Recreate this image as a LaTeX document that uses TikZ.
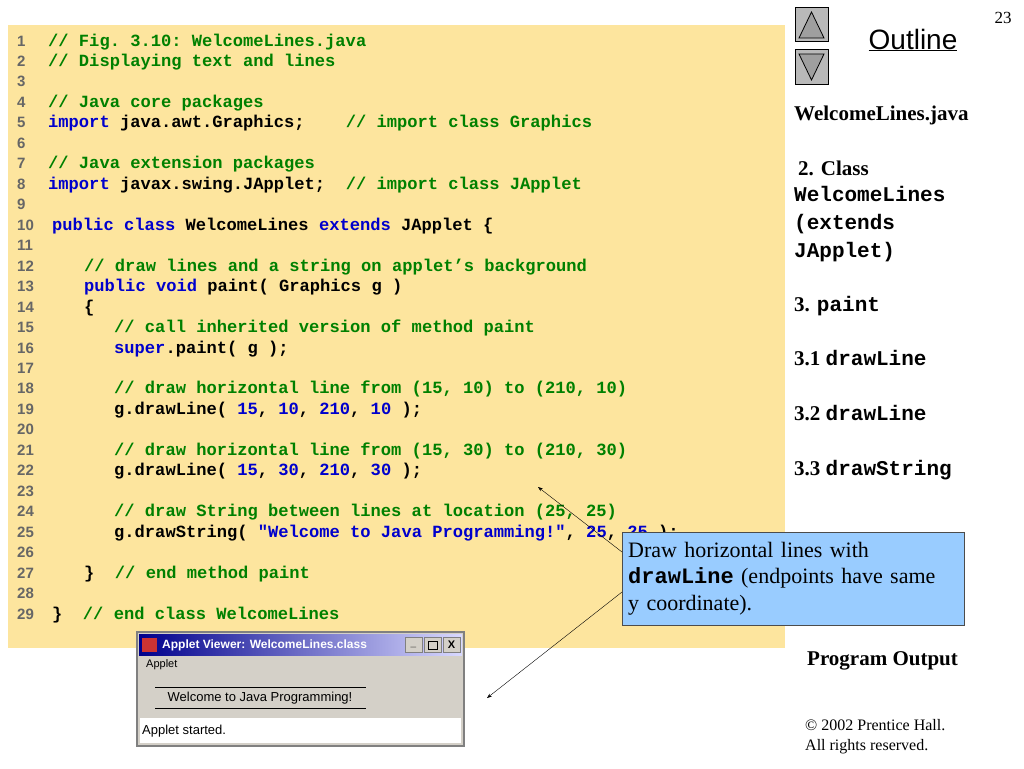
\documentclass[tikz,border=0pt]{standalone}
\usepackage{fontspec}
\setmainfont{Liberation Serif}
\setsansfont{Liberation Sans}
\setmonofont{Liberation Mono}
\usetikzlibrary{arrows.meta}
\definecolor{codebg}{RGB}{253,229,158}
\definecolor{cmgreen}{RGB}{0,128,0}
\definecolor{kwblue}{RGB}{0,0,204}
\definecolor{notebg}{RGB}{153,204,255}
\definecolor{wingray}{RGB}{212,208,200}
\newcommand{\cm}[1]{\textcolor{cmgreen}{#1}}
\newcommand{\kw}[1]{\textcolor{kwblue}{#1}}
\newcommand{\codesz}{\fontsize{17.1}{18}\selectfont\ttfamily\bfseries}
\newcommand{\lblsz}{\fontsize{21}{22}\selectfont\bfseries}
\newcommand{\lbltt}{\fontsize{21}{22}\selectfont\ttfamily}
\tikzset{
  codeline/.style={anchor=base west,inner sep=0pt,font=\codesz},
  lineno/.style={anchor=base west,inner sep=0pt,text=gray!80!black,font=\fontsize{15}{16}\selectfont\sffamily\bfseries},
  outlbl/.style={anchor=base west,inner sep=0pt,font=\lblsz},
  navbtn/.style={draw=black,fill=gray!55,line width=1pt},
  navtri/.style={fill=gray!75,draw=black,line width=0.8pt},
}
\begin{document}
\begin{tikzpicture}[x=1pt,y=-1pt,>=Stealth]
  \useasboundingbox (0,0) rectangle (1024,768);
  \fill[white] (0,0) rectangle (1024,768);

  % code panel
  \fill[codebg] (8,25) rectangle (785,648);
  \foreach \n in {1,...,29}
    \node[lineno] (no\n) at (17,{41+20.47*(\n-1)+5}) {\n};

  \foreach \n/\x/\txt in {
      1/48/{\cm{// Fig. 3.10: WelcomeLines.java}},
      2/48/{\cm{// Displaying text and lines}},
      4/48/{\cm{// Java core packages}},
      5/48/{\kw{import} java.awt.Graphics;~~~~\cm{// import class Graphics}},
      7/48/{\cm{// Java extension packages}},
      8/48/{\kw{import} javax.swing.JApplet;~~\cm{// import class JApplet}},
      10/52/{\kw{public class} WelcomeLines \kw{extends} JApplet \{},
      12/84/{\cm{// draw lines and a string on applet’s background}},
      13/84/{\kw{public void} paint( Graphics g )},
      14/84/{\{},
      15/114/{\cm{// call inherited version of method paint}},
      16/114/{\kw{super}.paint( g );},
      18/114/{\cm{// draw horizontal line from (15, 10) to (210, 10)}},
      19/114/{g.drawLine( \kw{15}, \kw{10}, \kw{210}, \kw{10} );},
      21/114/{\cm{// draw horizontal line from (15, 30) to (210, 30)}},
      22/114/{g.drawLine( \kw{15}, \kw{30}, \kw{210}, \kw{30} );},
      24/114/{\cm{// draw String between lines at location (25, 25)}},
      25/114/{g.drawString( \kw{"Welcome to Java Programming!"}, \kw{25}, \kw{25} );},
      27/84/{\}~~\cm{// end method paint}},
      29/52/{\}~~\cm{// end class WelcomeLines}}}
    \node[codeline] (code\n) at (\x,{41+20.47*(\n-1)+5}) {\txt};

  % applet viewer window
  \draw[gray,line width=1.5pt,fill=wingray] (137,632) rectangle (464,746);
  \shade[left color=blue!55!black,right color=blue!15!white] (139,634) rectangle (462,655);
  \node[anchor=west,inner sep=0pt,text=white,font=\fontsize{12}{13}\selectfont\sffamily\bfseries] (wintitle) at (162,645) {Applet Viewer: WelcomeLines.class};
  \fill[red!60!gray] (142,638) rectangle (157,652);
  \foreach \i/\x in {0/405,1/424,2/443}
    \draw[fill=wingray,draw=gray] (\x,637) rectangle ++(17,15);
  \node[font=\fontsize{10}{10}\selectfont\sffamily\bfseries,inner sep=0pt] (minbtn) at (413.5,647) {\_};
  \draw (428,641) rectangle (437,649);
  \node[font=\fontsize{11}{11}\selectfont\sffamily\bfseries,inner sep=0pt] (closebtn) at (451.5,645) {X};
  \node[anchor=west,inner sep=0pt,font=\fontsize{11}{12}\selectfont\sffamily] (menu) at (146,665) {Applet};
  \draw (155,687) -- (366,687);
  \draw (155,708) -- (366,708);
  \node[inner sep=0pt,font=\fontsize{13}{14}\selectfont\sffamily] (welcome) at (260,698) {Welcome to Java Programming!};
  \fill[white] (140,718) rectangle (461,743);
  \node[anchor=west,inner sep=0pt,font=\fontsize{13}{14}\selectfont\sffamily] (status) at (142,731) {Applet started.};

  % navigation
  \draw[navbtn] (795,8) rectangle (828,42);
  \draw[navtri] (799,38) -- (811.5,12) -- (824,38) -- cycle;
  \draw[navbtn] (795,50) rectangle (828,84);
  \draw[navtri] (799,54) -- (811.5,80) -- (824,54) -- cycle;
  \node[font=\fontsize{28}{30}\selectfont\sffamily,inner sep=0pt] (outline) at (913,40) {\underline{Outline}};
  \node[font=\fontsize{17}{18}\selectfont,inner sep=0pt] (page) at (1003,18) {23};

  % outline labels
  \node[outlbl] (l1) at (794,120) {WelcomeLines.java};
  \node[outlbl] (l2) at (798,175) {2. Class};
  \node[outlbl] (l3) at (794,201) {\lbltt WelcomeLines};
  \node[outlbl] (l4) at (794,229) {\lbltt (extends};
  \node[outlbl] (l5) at (794,257) {\lbltt JApplet)};
  \node[outlbl] (l6) at (794,311) {3. {\lbltt paint}};
  \node[outlbl] (l7) at (794,365) {3.1 {\lbltt drawLine}};
  \node[outlbl] (l8) at (794,420) {3.2 {\lbltt drawLine}};
  \node[outlbl] (l9) at (794,475) {3.3 {\lbltt drawString}};
  \node[outlbl] (prog) at (807,665) {Program Output};
  \node[anchor=north west,inner sep=0pt,align=left,font=\fontsize{16}{20}\selectfont] (copy) at (805,719) {\textcopyright{} 2002 Prentice Hall.\\All rights reserved.};

  % callout
  \node[draw=black!70,fill=notebg,anchor=north west,text width=330pt,minimum height=93pt,inner sep=0pt,inner xsep=6pt,align=left,font=\fontsize{22}{26.5}\selectfont] (note) at (622,532)
    {Draw horizontal lines with\\{\ttfamily\bfseries drawLine} (endpoints have same\\y coordinate).};
  \coordinate (tipa) at (538,487);
  \coordinate (tipb) at (487,698);
  \draw[->] (note.west |- 0,552) -- (tipa);
  \draw[->] (note.west |- 0,592) -- (tipb);
\end{tikzpicture}
\end{document}
